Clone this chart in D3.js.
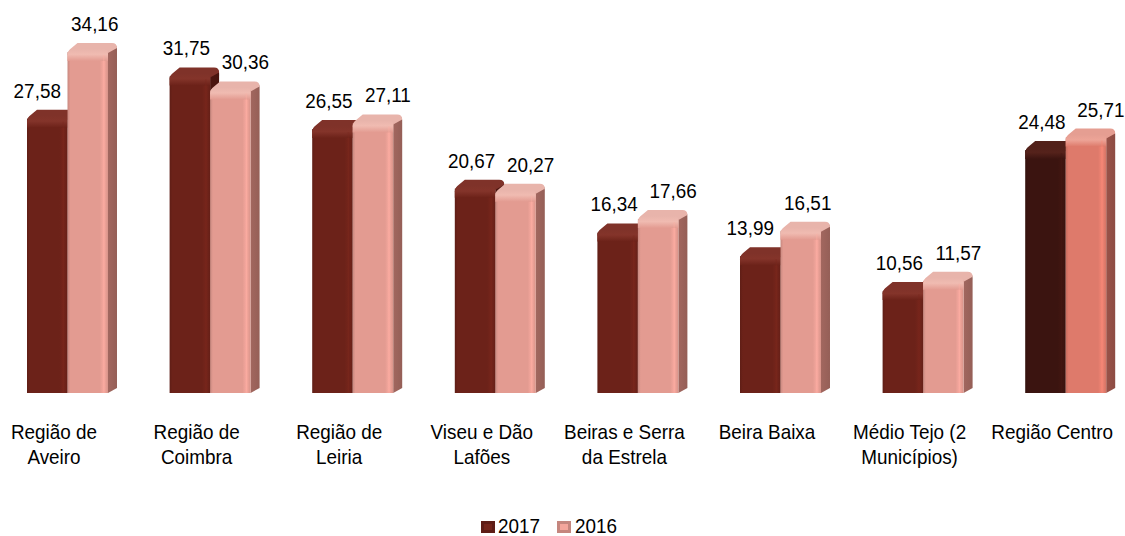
<!DOCTYPE html>
<html>
<head>
<meta charset="utf-8">
<script src="https://cdn.jsdelivr.net/npm/d3@7"></script>
<style>
  html, body { margin: 0; padding: 0; background: #fff; }
  svg { display: block; }
  text { font-family: Arial, "Liberation Sans", sans-serif; fill: #000; }
</style>
</head>
<body>
<svg id="chart" width="1125" height="536"></svg>
<script>
// ---- data ----
const categories = ["Região de Aveiro", "Região de Coimbra", "Região de Leiria", "Viseu e Dão Lafões",
  "Beiras e Serra da Estrela", "Beira Baixa", "Médio Tejo (2 Municípios)", "Região Centro"];
const series = ["2017", "2016"];
const values2017 = [27.58, 31.75, 26.55, 20.67, 16.34, 13.99, 10.56, 24.48];
const values2016 = [34.16, 30.36, 27.11, 20.27, 17.66, 16.51, 11.57, 25.71];
const totalCategory = "Região Centro";

// ---- layout ----
const baseY = 393;
const svg = d3.select("#chart");
const defs = svg.append("defs");
const SX = 0.9;          // horizontal squeeze of the text, as in the reference
const FS = 21;           // font size

const x = d3.scaleBand().domain(categories).range([-3.8, 1137]).paddingInner(0.432).paddingOuter(0.216);
const xs = d3.scaleBand().domain(series).range([0, x.bandwidth()]);
const y = d3.scaleLinear().domain([0, 38.8]).range([baseY, 0]);

const fmt = v => d3.format(".2f")(v).replace(".", ",");

const palette = {
  "2017": { front: "#6C2219", side: "#4A150F", top: "#84342A" },
  "2016": { front: "#E39B91", side: "#9A625A", top: "#F0BBB1" },
  "2017T": { front: "#3B1410", side: "#2A0D0A", top: "#55221B" },
  "2016T": { front: "#DE7A6B", side: "#924F45", top: "#EDA497" }
};

function makeGradients(key, c) {
  const f = d3.color(c.front);
  const g = defs.append("linearGradient").attr("id", "fh" + key).attr("x1", 0).attr("x2", 1).attr("y1", 0).attr("y2", 0);
  [[0, f.darker(0.35)], [0.07, f], [0.8, f], [0.9, f.brighter(0.25)], [1, f.darker(0.15)]]
    .forEach(([o, col]) => g.append("stop").attr("offset", o).attr("stop-color", col));
  const t = d3.color(c.top);
  const g2 = defs.append("linearGradient").attr("id", "tv" + key).attr("x1", 0).attr("x2", 0).attr("y1", 0).attr("y2", 1);
  [[0, t.darker(0.1)], [0.45, t], [1, f]]
    .forEach(([o, col]) => g2.append("stop").attr("offset", o).attr("stop-color", col));
  const s = d3.color(c.side);
  const g3 = defs.append("linearGradient").attr("id", "sd" + key).attr("x1", 0).attr("x2", 1).attr("y1", 0).attr("y2", 0);
  [[0, s.brighter(0.15)], [1, s.darker(0.1)]]
    .forEach(([o, col]) => g3.append("stop").attr("offset", o).attr("stop-color", col));
}
Object.entries(palette).forEach(([k, c]) => makeGradients(k, c));

const dx = 9, dy = 5;

function drawBar(g, x0, w, yTop, key) {
  const c = palette[key];
  g.append("path")
    .attr("d", `M${x0 + w},${baseY} L${x0 + w},${yTop + 4} L${x0 + w + dx - 3},${yTop - 2}
      Q${x0 + w + dx},${yTop - 2} ${x0 + w + dx},${yTop + 2} L${x0 + w + dx},${baseY - dy} Z`)
    .attr("fill", `url(#sd${key})`);
  g.append("path")
    .attr("d", `M${x0},${yTop + 8} Q${x0},${yTop + 4} ${x0 + 4},${yTop + 1} L${x0 + dx + 1},${yTop - 4}
      L${x0 + w + dx - 5},${yTop - 4} Q${x0 + w + dx},${yTop - 4} ${x0 + w + dx},${yTop + 1}
      L${x0 + w},${yTop + 6} Z`)
    .attr("fill", d3.color(c.top).darker(0.1));
  g.append("rect")
    .attr("x", x0).attr("y", yTop + 5).attr("width", w).attr("height", baseY - yTop - 5)
    .attr("fill", `url(#fh${key})`);
  g.append("path")
    .attr("d", `M${x0},${yTop + 14} L${x0},${yTop + 8} Q${x0},${yTop + 3} ${x0 + 5},${yTop + 2}
      L${x0 + w - 4},${yTop + 2} Q${x0 + w},${yTop + 2} ${x0 + w},${yTop + 6} L${x0 + w},${yTop + 14} Z`)
    .attr("fill", `url(#tv${key})`);
  g.append("rect")
    .attr("x", x0 + w - 5).attr("y", yTop + 8).attr("width", 1.5).attr("height", baseY - yTop - 10)
    .attr("fill", d3.color(c.front).brighter(0.35)).attr("opacity", 0.35);
}

function squeezedText(g, px, py, str, anchor) {
  return g.append("text")
    .attr("transform", `translate(${px},${py}) scale(${SX},1)`)
    .attr("text-anchor", anchor || "middle")
    .attr("font-size", FS + "px")
    .text(str);
}

const valuesBySeries = { "2017": values2017, "2016": values2016 };
const bars = svg.append("g");
const labels = svg.append("g");

categories.forEach((cat, i) => {
  const v17 = values2017[i], v16 = values2016[i];
  const apart = Math.abs(y(v17) - y(v16)) > 20;
  series.forEach(s => {
    const v = valuesBySeries[s][i];
    const x0 = x(cat) + xs(s);
    const w = xs.bandwidth();
    const key = cat === totalCategory ? s + "T" : s;
    drawBar(bars, x0, w, y(v), key);
    const off = s === "2017" ? (apart ? -10 : -3.5) : (apart ? 7 : 15);
    squeezedText(labels, x0 + w / 2 + off, y(v) - 16, fmt(v));
  });
});

// category labels with wrapping
const catG = svg.append("g");
const maxW = 132;
categories.forEach(cat => {
  const cx = x(cat) + x.bandwidth() / 2 - 13.5;
  const words = cat.split(" ");
  let lines = [], line = [];
  const probe = catG.append("text").attr("font-size", FS + "px");
  words.forEach(wd => {
    const trial = line.concat([wd]).join(" ");
    probe.text(trial);
    if (probe.node().getComputedTextLength() * SX > maxW && line.length) {
      lines.push(line.join(" "));
      line = [wd];
    } else line.push(wd);
  });
  lines.push(line.join(" "));
  probe.remove();
  lines.forEach((ln, k) => squeezedText(catG, cx, 439 + k * 25, ln));
});

// legend
const leg = svg.append("g");
const legItems = [
  { s: "2017", mx: 481, tx: 498 },
  { s: "2016", mx: 557, tx: 575 }
];
legItems.forEach(it => {
  const c = palette[it.s];
  leg.append("rect").attr("x", it.mx).attr("y", 521).attr("width", 14).attr("height", 12)
    .attr("fill", d3.color(c.front).darker(0.4));
  leg.append("rect").attr("x", it.mx + 3).attr("y", 524).attr("width", 8).attr("height", 6)
    .attr("fill", d3.color(c.front).brighter(0.2));
  squeezedText(leg, it.tx, 533, it.s, "start");
});
</script>
</body>
</html>
